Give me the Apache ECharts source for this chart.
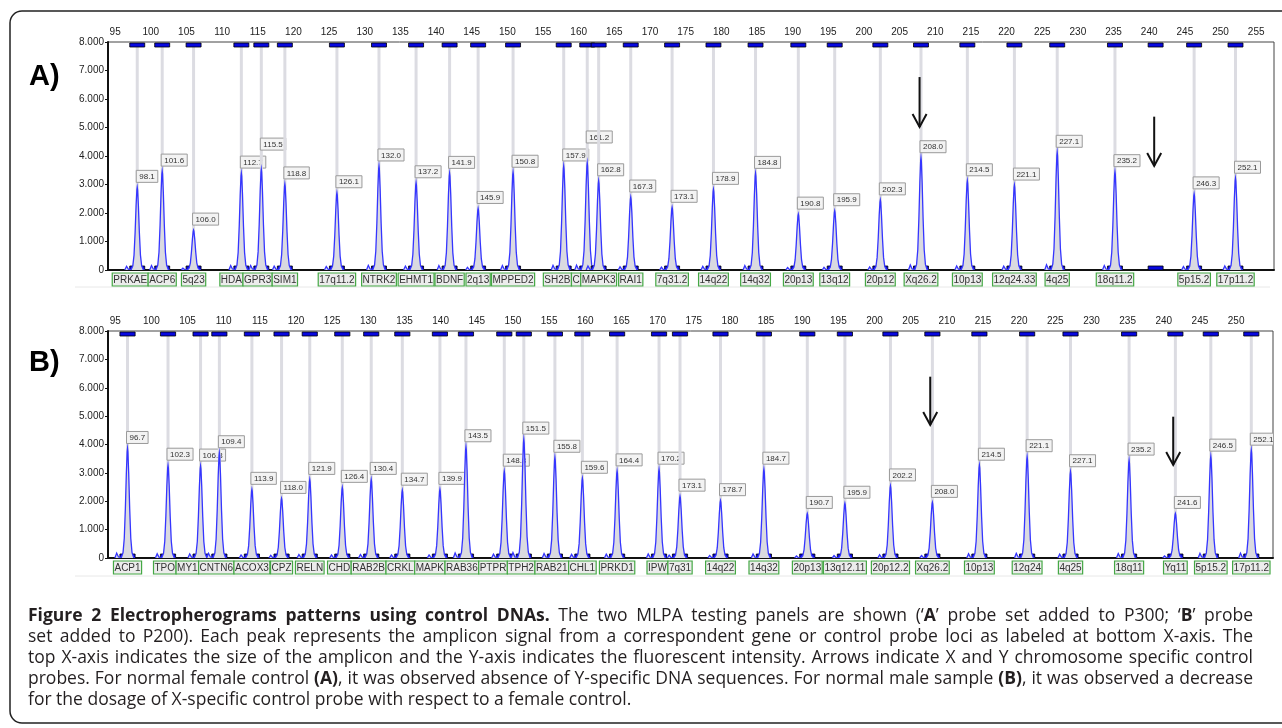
<!DOCTYPE html>
<html>
<head>
<meta charset="utf-8">
<script src="https://cdn.jsdelivr.net/npm/echarts@6/dist/echarts.min.js"></script>
<style>
html, body { margin: 0; padding: 0; background: #fff; }
#chart { width: 1282px; height: 728px; }
</style>
</head>
<body>
<div id="chart"></div>
<script>
// panel A: probe sizes (nt), peak heights, probe names as printed
var sizesA = [98.1, 101.6, 106.0, 112.7, 115.5, 118.8, 126.1, 132.0, 137.2, 141.9, 145.9, 150.8, 157.9, 161.2, 162.8, 167.3, 173.1, 178.9, 184.8, 190.8, 195.9, 202.3, 208.0, 214.5, 221.1, 227.1, 235.2, 246.3, 252.1];
var heightsA = [2900, 3470, 1400, 3400, 3530, 3020, 2710, 3650, 3060, 3390, 2160, 3430, 3650, 3760, 3130, 2560, 2200, 2830, 3390, 1960, 2080, 2460, 3940, 3130, 2980, 4130, 3450, 2670, 3220];
var genesA = ['PRKAE', 'ACP6', '5q23', 'HDA', 'GPR3', 'SIM1', '17q11.2', 'NTRK2', 'EHMT1', 'BDNF', '2q13', 'MPPED2', 'SH2B', 'C', 'MAPK3', 'RAI1', '7q31.2', '14q22', '14q32', '20p13', '13q12', '20p12', 'Xq26.2', '10p13', '12q24.33', '4q25', '18q11.2', '5p15.2', '17p11.2'];
var emptyA = [240.9];   // Y probe bin, no peak
var arrowsA = [[207.8, 6770, 5020], [240.7, 5380, 3650]];
var ticksA = [95, 100, 105, 110, 115, 120, 125, 130, 135, 140, 145, 150, 155, 160, 165, 170, 175, 180, 185, 190, 195, 200, 205, 210, 215, 220, 225, 230, 235, 240, 245, 250, 255];

// panel B
var sizesB = [96.7, 102.3, 106.8, 109.4, 113.9, 118.0, 121.9, 126.4, 130.4, 134.7, 139.9, 143.5, 148.8, 151.5, 155.8, 159.6, 164.4, 170.2, 173.1, 178.7, 184.7, 190.7, 195.9, 202.2, 208.0, 214.5, 221.1, 227.1, 235.2, 241.6, 246.5, 252.1];
var heightsB = [3860, 3270, 3240, 3710, 2420, 2100, 2770, 2490, 2770, 2390, 2420, 3920, 3060, 4190, 3550, 2810, 3070, 3130, 2180, 2020, 3130, 1570, 1930, 2540, 1960, 3270, 3570, 3040, 3450, 1570, 3590, 3800];
var genesB = ['ACP1', 'TPO', 'MY1', 'CNTN6', 'ACOX3', 'CPZ', 'RELN', 'CHD', 'RAB2B', 'CRKL', 'MAPK', 'RAB36', 'PTPR', 'TPH2', 'RAB21', 'CHL1', 'PRKD1', 'IPW', '7q31', '14q22', '14q32', '20p13', '13q12.11', '20p12.2', 'Xq26.2', '10p13', '12q24', '4q25', '18q11', 'Yq11', '5p15.2', '17p11.2'];
var arrowsB = [[207.7, 6390, 4690], [241.3, 4980, 3280]];
var ticksB = [95, 100, 105, 110, 115, 120, 125, 130, 135, 140, 145, 150, 155, 160, 165, 170, 175, 180, 185, 190, 195, 200, 205, 210, 215, 220, 225, 230, 235, 240, 245, 250];

var FONT = '"Liberation Sans", Arial, sans-serif';
var CAPFONT = '"Open Sans", "Noto Sans", sans-serif';
var CAPSIZE = 17.5;

// outline of one peak: offset in size units, fraction of peak height
var PEAK = [[-1.75, 0], [-1.5, 0.045], [-1.25, 0.01], [-0.85, 0.005], [-0.62, 0.05], [-0.45, 0.18], [-0.3, 0.45], [-0.16, 0.78], [-0.05, 0.97], [0, 1], [0.05, 0.97], [0.16, 0.78], [0.3, 0.45], [0.45, 0.18], [0.62, 0.05], [0.85, 0.005], [1.05, 0]];

var mctx = document.createElement('canvas').getContext('2d');
function textWidth(t, font) {
    mctx.font = font;
    return mctx.measureText(t).width;
}

function markers(api, s, top, base) {
    var l = api.coord([s - 1.05, 0])[0], r = api.coord([s + 1.05, 0])[0];
    var st = { fill: '#0808e0', stroke: '#000', lineWidth: 0.8 };
    return [
        { type: 'rect', shape: { x: l, y: top + 1, width: r - l, height: 4 }, style: st },
        { type: 'rect', shape: { x: l, y: base - 4, width: r - l, height: 4 }, style: st }
    ];
}

function peakRender() {
    var placed = [];
    return function (params, api) {
        if (params.dataIndex === 0) placed = [];
        var s = api.value(0), h = api.value(1);
        var cs = params.coordSys;
        var top = cs.y, base = cs.y + cs.height;
        var apex = api.coord([s, h]);
        var pts = PEAK.map(function (p) { return api.coord([s + p[0], h * p[1]]); });
        var children = [
            { type: 'line', shape: { x1: apex[0], y1: top + 5, x2: apex[0], y2: base }, style: { stroke: '#dcdce2', lineWidth: 3 } }
        ].concat(markers(api, s, top, base));
        children.push({ type: 'polygon', shape: { points: pts }, style: { fill: '#dadae0' } });
        children.push({ type: 'polyline', shape: { points: pts }, style: { stroke: '#3535ff', lineWidth: 1.3, fill: null } });

        // size label box above the apex, pushed up when it hits an earlier one
        var txt = s.toFixed(1);
        var w = textWidth(txt, '8px ' + FONT) + 6;
        var left = apex[0] - 1, right = left + w;
        var bottom = apex[1] - 5, tp = bottom - 12;
        var moved = true;
        while (moved) {
            moved = false;
            for (var k = 0; k < placed.length; k++) {
                var p = placed[k];
                if (left < p.r && right > p.l && tp < p.b && bottom > p.t) {
                    bottom = p.t - 6; tp = bottom - 12; moved = true;
                }
            }
        }
        placed.push({ l: left, r: right, t: tp, b: bottom });
        children.push({ type: 'rect', shape: { x: left, y: tp, width: w, height: 12 }, style: { fill: '#f3f3f3', stroke: '#9a9a9a', lineWidth: 1 } });
        children.push({ type: 'text', x: left + 3, y: tp + 6.5, style: { text: txt, fontSize: 8, fontFamily: FONT, fill: '#333', verticalAlign: 'middle' } });
        return { type: 'group', children: children };
    };
}

function emptyRender(params, api) {
    var cs = params.coordSys;
    return { type: 'group', children: markers(api, api.value(0), cs.y, cs.y + cs.height) };
}

// name boxes under the axis: centred on the probe, pushed left when the next box is in the way
function geneRender(sizes, genes) {
    var gfont = '10px ' + FONT;
    return function (params, api) {
        var i = params.dataIndex;
        var cs = params.coordSys;
        var base = cs.y + cs.height;
        var boxes = [];
        for (var k = sizes.length - 1; k >= i; k--) {
            var c = api.coord([sizes[k], 0])[0];
            var w = textWidth(genes[k], gfont) + 2;
            var l = c - w / 2;
            if (k < sizes.length - 1 && l + w > boxes[k + 1][0]) l = boxes[k + 1][0] - w;
            boxes[k] = [l, w];
        }
        var b = boxes[i];
        return {
            type: 'group',
            children: [
                { type: 'rect', shape: { x: b[0], y: base + 3, width: b[1], height: 13 }, style: { fill: '#ececec', stroke: '#45a845', lineWidth: 1.2 } },
                { type: 'text', x: b[0] + b[1] / 2, y: base + 10, style: { text: genes[i], fontSize: 10, fontFamily: FONT, fill: '#333', align: 'center', verticalAlign: 'middle' } }
            ]
        };
    };
}

function arrowRender(params, api) {
    var p1 = api.coord([api.value(0), api.value(1)]);
    var p2 = api.coord([api.value(0), api.value(2)]);
    var st = { stroke: '#111', lineWidth: 2, fill: null };
    return {
        type: 'group',
        children: [
            { type: 'line', shape: { x1: p1[0], y1: p1[1], x2: p2[0], y2: p2[1] }, style: st },
            { type: 'polyline', shape: { points: [[p2[0] - 7, p2[1] - 13], [p2[0], p2[1]], [p2[0] + 7, p2[1] - 13]] }, style: st }
        ]
    };
}

function pairs(xs, ys) {
    return xs.map(function (x, i) { return [x, ys[i]]; });
}

function xAxisFor(idx, max, ticks) {
    return {
        gridIndex: idx, type: 'value', position: 'top', min: 94, max: max,
        axisLine: { lineStyle: { color: '#111', width: 2 } },
        axisTick: { show: false },
        splitLine: { show: false },
        axisLabel: { customValues: ticks, fontSize: 10, color: '#222', margin: 5, fontFamily: FONT }
    };
}

function yAxisFor(idx) {
    return {
        gridIndex: idx, type: 'value', min: 0, max: 8000, interval: 1000,
        axisLine: { show: true, lineStyle: { color: '#111', width: 2 } },
        axisTick: { show: true, length: 3, lineStyle: { color: '#111' } },
        splitLine: { show: false },
        axisLabel: {
            fontSize: 10, color: '#222', margin: 4, fontFamily: FONT,
            formatter: function (v) { return v === 0 ? '0' : (v / 1000).toFixed(3); }
        }
    };
}

var caption = [
    '{b|Figure 2 Electropherograms patterns using control DNAs.} The two MLPA testing panels are shown (‘{b|A}’ probe set added to P300; ‘{b|B}’ probe',
    'set added to P200). Each peak represents the amplicon signal from a correspondent gene or control probe loci as labeled at bottom X-axis. The',
    'top X-axis indicates the size of the amplicon and the Y-axis indicates the fluorescent intensity. Arrows indicate X and Y chromosome specific control',
    'probes. For normal female control {b|(A)}, it was observed absence of Y-specific DNA sequences. For normal male sample {b|(B)}, it was observed a decrease',
    'for the dosage of X-specific control probe with respect to a female control.'
];

// split a caption line into words made of normal / bold pieces
function parseLine(line) {
    var segs = [], re = /\{b\|([^}]*)\}/g, last = 0, m;
    while ((m = re.exec(line))) {
        if (m.index > last) segs.push([line.slice(last, m.index), false]);
        segs.push([m[1], true]);
        last = re.lastIndex;
    }
    if (last < line.length) segs.push([line.slice(last), false]);
    var words = [[]];
    segs.forEach(function (sg) {
        sg[0].split(' ').forEach(function (part, k) {
            if (k > 0) words.push([]);
            if (part) words[words.length - 1].push({ t: part, b: sg[1] });
        });
    });
    return words.filter(function (w) { return w.length; });
}

function capFont(bold) {
    return (bold ? 'bold ' : '') + CAPSIZE + 'px "Open Sans"';
}

var graphics = [
    { type: 'rect', z: -10, shape: { x: 10, y: 11, width: 1300, height: 712, r: 12 }, style: { fill: 'none', stroke: '#222', lineWidth: 1.5 } },
    { type: 'line', shape: { x1: 75, y1: 287, x2: 1270, y2: 287 }, style: { stroke: '#e8e8e8', lineWidth: 1 } },
    { type: 'line', shape: { x1: 75, y1: 576, x2: 1270, y2: 576 }, style: { stroke: '#e8e8e8', lineWidth: 1 } },
    { type: 'text', x: 29, y: 77, style: { text: 'A)', fontSize: 29, fontWeight: 'bold', fontFamily: FONT, fill: '#000', verticalAlign: 'middle' } },
    { type: 'text', x: 29, y: 363, style: { text: 'B)', fontSize: 29, fontWeight: 'bold', fontFamily: FONT, fill: '#000', verticalAlign: 'middle' } }
];

// justified caption (last line left aligned)
var capLeft = 28, capRight = 1253;
caption.forEach(function (line, li) {
    var words = parseLine(line);
    var widths = words.map(function (w) {
        return w.reduce(function (s, p) { return s + textWidth(p.t, capFont(p.b)); }, 0);
    });
    var total = widths.reduce(function (a, b) { return a + b; }, 0);
    var gap = li < caption.length - 1 ? (capRight - capLeft - total) / (words.length - 1) : textWidth(' ', capFont(false));
    var x = capLeft, y = 616 + li * 21;
    words.forEach(function (w, wi) {
        var px = x;
        w.forEach(function (p) {
            graphics.push({
                type: 'text', x: px, y: y,
                style: { text: p.t, fontSize: CAPSIZE, fontFamily: CAPFONT, fontWeight: p.b ? 'bold' : 'normal', fill: '#231f20', verticalAlign: 'middle' }
            });
            px += textWidth(p.t, capFont(p.b));
        });
        x += widths[wi] + gap;
    });
});

var chart = echarts.init(document.getElementById('chart'));
var option = {
    backgroundColor: '#fff',
    animation: false,
    grid: [
        { left: 108, top: 42, width: 1166, height: 228, show: true, borderColor: '#444', borderWidth: 1 },
        { left: 108, top: 331, width: 1165, height: 227, show: true, borderColor: '#444', borderWidth: 1 }
    ],
    xAxis: [xAxisFor(0, 257.5, ticksA), xAxisFor(1, 255.1, ticksB)],
    yAxis: [yAxisFor(0), yAxisFor(1)],
    graphic: graphics,
    series: [
        { type: 'custom', xAxisIndex: 0, yAxisIndex: 0, clip: true, silent: true, renderItem: peakRender(), data: pairs(sizesA, heightsA) },
        { type: 'custom', xAxisIndex: 0, yAxisIndex: 0, clip: true, silent: true, renderItem: emptyRender, data: emptyA.map(function (x) { return [x, 0]; }) },
        { type: 'custom', xAxisIndex: 0, yAxisIndex: 0, silent: true, renderItem: geneRender(sizesA, genesA), data: pairs(sizesA, heightsA) },
        { type: 'custom', xAxisIndex: 0, yAxisIndex: 0, silent: true, renderItem: arrowRender, data: arrowsA },
        { type: 'custom', xAxisIndex: 1, yAxisIndex: 1, clip: true, silent: true, renderItem: peakRender(), data: pairs(sizesB, heightsB) },
        { type: 'custom', xAxisIndex: 1, yAxisIndex: 1, silent: true, renderItem: geneRender(sizesB, genesB), data: pairs(sizesB, heightsB) },
        { type: 'custom', xAxisIndex: 1, yAxisIndex: 1, silent: true, renderItem: arrowRender, data: arrowsB }
    ]
};
chart.setOption(option);
</script>
</body>
</html>
